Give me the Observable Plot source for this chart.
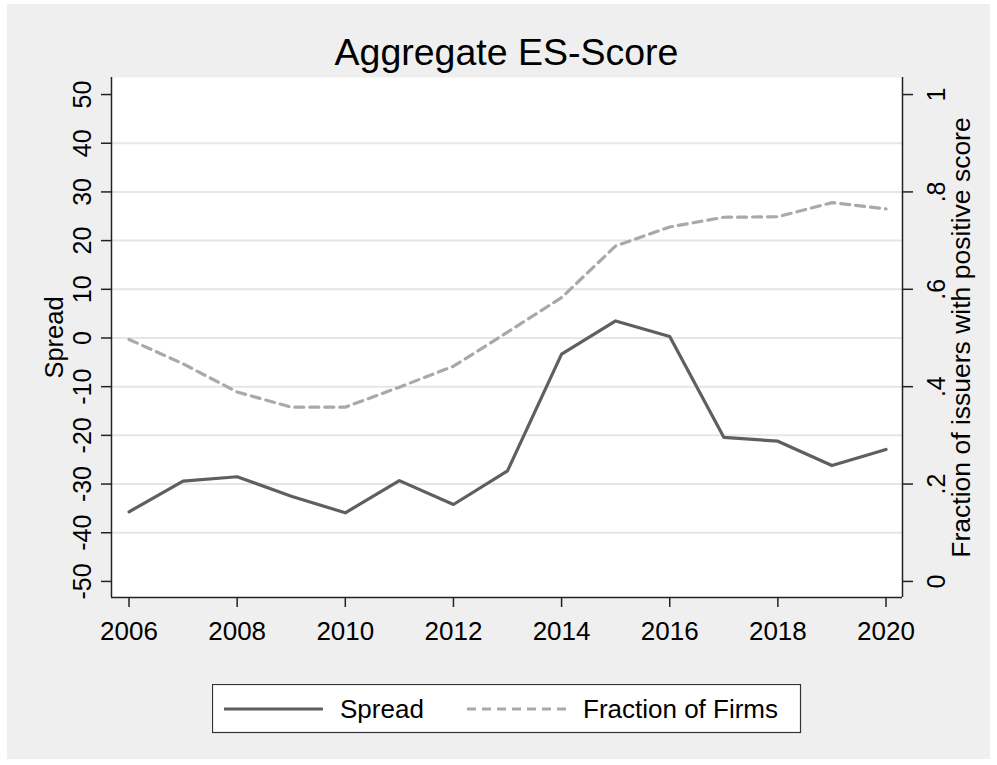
<!DOCTYPE html>
<html>
<head>
<meta charset="utf-8">
<script src="https://cdn.jsdelivr.net/npm/d3@7"></script>
<script src="https://cdn.jsdelivr.net/npm/@observablehq/plot@0.6"></script>
<style>
  body { margin: 0; background: #ffffff; font-family: "Liberation Sans", Arial, sans-serif; }
  #page { position: relative; width: 997px; height: 765px; overflow: hidden; }
  #bg { position: absolute; left: 7px; top: 4px; width: 983px; height: 755px; background: #efefef; }
  #title { position: absolute; left: 111px; width: 791px; top: 34px; text-align: center;
           font-size: 37.5px; line-height: 37px; color: #000; white-space: nowrap; }
  #chart { position: absolute; left: 0; top: 75px; }
  #legend { position: absolute; left: 212px; top: 684px; }
</style>
</head>
<body>
<div id="page">
  <div id="bg"></div>
  <div id="title">Aggregate ES-Score</div>
  <div id="chart"></div>
  <div id="legend"></div>
</div>
<script>
// ---- data ----
const years = [2006, 2007, 2008, 2009, 2010, 2011, 2012, 2013, 2014, 2015, 2016, 2017, 2018, 2019, 2020];
const spread = [-35.7, -29.4, -28.5, -32.5, -35.9, -29.3, -34.2, -27.3, -3.3, 3.5, 0.3, -20.4, -21.2, -26.2, -22.9];
const fraction = [0.497, 0.447, 0.389, 0.358, 0.358, 0.399, 0.442, 0.512, 0.583, 0.689, 0.728, 0.748, 0.749, 0.778, 0.765];
const xTicks = [2006, 2008, 2010, 2012, 2014, 2016, 2018, 2020];
const leftTicks = [-50, -40, -30, -20, -10, 0, 10, 20, 30, 40, 50];
const gridTicks = [-40, -30, -20, -10, 0, 10, 20, 30, 40];
const rightTicks = [0, 0.2, 0.4, 0.6, 0.8, 1];
const rightLabels = ["0", ".2", ".4", ".6", ".8", "1"];
const seriesNames = ["Spread", "Fraction of Firms"];

// right axis (0..1) is a linear re-expression of the left axis (-50..50)
const toLeft = f => f * 100 - 50;
const rows = years.map((year, i) => ({year, spread: spread[i], fraction: fraction[i]}));

const FONT = '"Liberation Sans", Arial, sans-serif';
const xDomain = [2005.676, 2020.305];
const yDomain = [-53.3, 53.5];
const axisColor = "#222222";

const chart = Plot.plot({
  width: 997,
  height: 590,
  marginTop: 2,
  marginLeft: 111,
  marginRight: 95,
  marginBottom: 68,
  style: {background: "transparent", fontFamily: FONT, fontSize: "26px", color: "#000", overflow: "visible"},
  x: {domain: xDomain, label: null},
  y: {domain: yDomain, label: null},
  marks: [
    Plot.frame({fill: "white", stroke: "none"}),
    Plot.ruleY(gridTicks, {stroke: "#e6e6e6", strokeWidth: 2}),
    Plot.line(rows, {x: "year", y: d => toLeft(d.fraction), stroke: "#a9a9a9", strokeWidth: 3.2, strokeDasharray: "9,6"}),
    Plot.line(rows, {x: "year", y: "spread", stroke: "#5f5f5f", strokeWidth: 3.2}),
    Plot.ruleX([xDomain[0], xDomain[1]], {stroke: axisColor, strokeWidth: 1.5}),
    Plot.ruleY([yDomain[0]], {stroke: axisColor, strokeWidth: 1.5}),
    Plot.axisX(xTicks, {tickSize: 10, tickPadding: 14, tickFormat: d => String(d), fontSize: 26,
      stroke: axisColor, strokeWidth: 1.5, label: null}),
    Plot.axisY(leftTicks, {anchor: "left", tickSize: 10, tickPadding: 11, tickRotate: -90,
      tickFormat: d => String(d), fontSize: 25, stroke: axisColor, strokeWidth: 1.5, label: null}),
    Plot.axisY(rightTicks.map(toLeft), {anchor: "right", tickSize: 10, tickPadding: 32, tickRotate: -90,
      tickFormat: d => rightLabels[rightTicks.findIndex(f => Math.abs(toLeft(f) - d) < 1e-6)],
      fontSize: 25, stroke: axisColor, strokeWidth: 1.5, label: null}),
    Plot.text(["Spread"], {frameAnchor: "left", rotate: -90, dx: -49, lineAnchor: "bottom",
      textAnchor: "middle", fontSize: 25.5, fill: "#000"}),
    Plot.text(["Fraction of issuers with positive score"], {frameAnchor: "right", rotate: -90, dx: 67,
      lineAnchor: "bottom", textAnchor: "middle", fontSize: 26.5, fill: "#000"})
  ]
});
document.getElementById("chart").appendChild(chart);

// ---- legend ----
const lg = d3.select("#legend").append("svg")
  .attr("width", 591).attr("height", 51)
  .style("font-family", FONT).style("display", "block");
lg.append("rect").attr("x", 0.5).attr("y", 0.5).attr("width", 588).attr("height", 48)
  .attr("fill", "white").attr("stroke", "#333").attr("stroke-width", 1.2);
const items = [
  {name: seriesNames[0], x1: 12, x2: 111, tx: 128, stroke: "#5f5f5f", dash: null},
  {name: seriesNames[1], x1: 255, x2: 354, tx: 371, stroke: "#a9a9a9", dash: "9,6"}
];
items.forEach(it => {
  const l = lg.append("line").attr("x1", it.x1).attr("x2", it.x2).attr("y1", 25).attr("y2", 25)
    .attr("stroke", it.stroke).attr("stroke-width", 3.2);
  if (it.dash) l.attr("stroke-dasharray", it.dash);
  lg.append("text").attr("x", it.tx).attr("y", 34.3).attr("font-size", 26).attr("fill", "#000").text(it.name);
});
</script>
</body>
</html>
